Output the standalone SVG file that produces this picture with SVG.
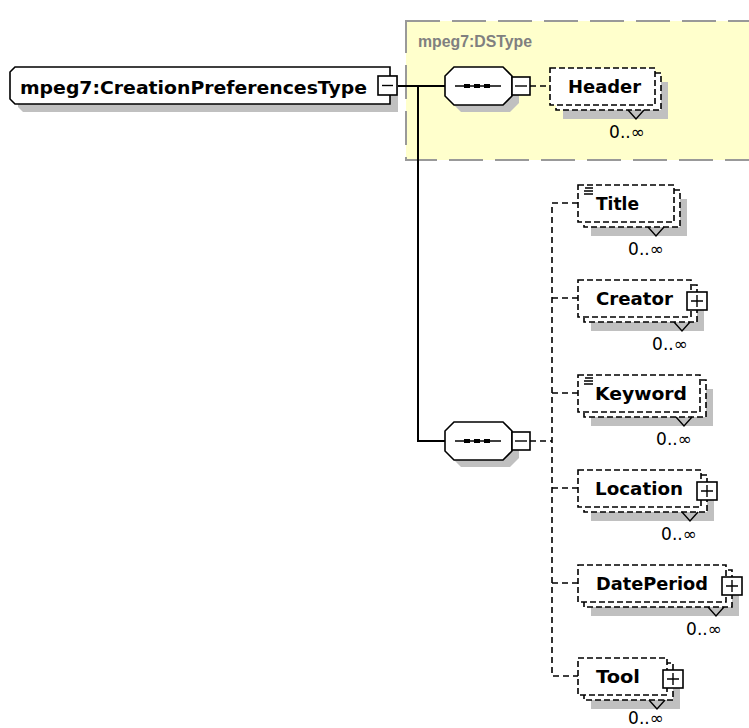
<svg xmlns="http://www.w3.org/2000/svg" width="749" height="728" viewBox="0 0 749 728">
<style>
.shadow{fill:#c0c0c0}
.solid{fill:#fff;stroke:#000;stroke-width:1.6}
.dash{fill:#fff;stroke:#000;stroke-width:1.6;stroke-dasharray:6 3}
.line{fill:none;stroke:#000;stroke-width:2}
.thin{fill:none;stroke:#000;stroke-width:1.4}
.dline{fill:none;stroke:#000;stroke-width:1.6;stroke-dasharray:6 4}
.lbl{font-family:"DejaVu Sans",sans-serif;font-weight:bold;font-size:18px;fill:#000}
.card{font-family:"DejaVu Sans",sans-serif;font-size:17px;fill:#000;text-anchor:middle}
.dot{fill:#000}
</style>
<rect width="749" height="728" fill="#fff"/>
<g id="group-DSType">
<rect x="406" y="21" width="360" height="139" fill="#ffffcc" stroke="#999" stroke-width="2" stroke-dasharray="34 12"/>
<text x="418" y="47" font-family="'Liberation Sans',Arial,sans-serif" font-weight="bold" font-size="16" fill="#808080" textLength="114" lengthAdjust="spacingAndGlyphs">mpeg7:DSType</text>
</g>
<g id="connectors">
<path class="line" d="M397,86 H445"/>
<path class="line" d="M418,86 V441 H445"/>
<path class="dline" d="M530,86 H550"/>
<path class="dline" d="M530,441 H552"/>
<path class="dline" d="M578,203 H552 V676 H578"/>
<path class="dline" d="M552,298 H578 M552,393 H578 M552,488 H578 M552,583 H578"/>
</g>
<g id="node-CreationPreferencesType">
<polygon class="shadow" points="23,75 398,75 398,112 23,112 18,107 18,80"/>
<polygon class="solid" points="15,67 390,67 390,104 15,104 10,99 10,72"/>
<text class="lbl" x="20" y="94" textLength="347" lengthAdjust="spacingAndGlyphs">mpeg7:CreationPreferencesType</text>
<rect class="solid" x="378" y="76" width="19" height="19"/>
<path class="thin" d="M382,85.5 H393"/>
</g>
<g id="node-sequence1">
<polygon class="shadow" points="461,74 510,74 519,83 519,103 510,112 461,112 452,103 452,84"/>
<polygon class="solid" points="454,67 503,67 512,76 512,96 503,105 454,105 445,96 445,76"/>
<path class="thin" d="M455,86 H501"/>
<rect class="dot" x="464" y="84" width="6" height="4"/>
<rect class="dot" x="474" y="84" width="6" height="4"/>
<rect class="dot" x="484" y="84" width="6" height="4"/>
<rect class="solid" x="512" y="77" width="18" height="18"/>
<path class="thin" d="M515,86 H527"/>
</g>
<g id="node-sequence2">
<polygon class="shadow" points="461,429 510,429 519,438 519,458 510,467 461,467 452,458 452,439"/>
<polygon class="solid" points="454,422 503,422 512,431 512,451 503,460 454,460 445,451 445,431"/>
<path class="thin" d="M455,441 H501"/>
<rect class="dot" x="464" y="439" width="6" height="4"/>
<rect class="dot" x="474" y="439" width="6" height="4"/>
<rect class="dot" x="484" y="439" width="6" height="4"/>
<rect class="solid" x="512" y="432" width="18" height="18"/>
<path class="thin" d="M515,441 H527"/>
</g>
<g id="node-Header">
<rect class="shadow" x="563" y="82" width="105" height="37"/>
<rect class="dash" x="556" y="73" width="105" height="37"/>
<rect class="dash" x="550" y="68" width="105" height="37"/>
<polyline class="thin" points="628,110 636,119 644,110"/>
<text class="lbl" x="568" y="93" textLength="73" lengthAdjust="spacingAndGlyphs">Header</text>
<text class="card" x="627" y="138">0..∞</text>
</g>
<g id="node-Title">
<rect class="shadow" x="591" y="199" width="96" height="37"/>
<rect class="dash" x="584" y="190" width="96" height="37"/>
<rect class="dash" x="578" y="185" width="96" height="37"/>
<polyline class="thin" points="648,227 656,236 664,227"/>
<path class="thin" d="M585,188 H593 M584,191 H593 M584,194 H593"/>
<text class="lbl" x="596" y="210" textLength="43" lengthAdjust="spacingAndGlyphs">Title</text>
<text class="card" x="646" y="255">0..∞</text>
</g>
<g id="node-Creator">
<rect class="shadow" x="591" y="294" width="113" height="37"/>
<rect class="dash" x="584" y="285" width="113" height="37"/>
<rect class="dash" x="578" y="280" width="113" height="37"/>
<polyline class="thin" points="674,322 682,331 690,322"/>
<text class="lbl" x="596" y="305" textLength="77" lengthAdjust="spacingAndGlyphs">Creator</text>
<rect class="solid" x="687" y="292" width="20" height="18"/>
<path class="thin" d="M691,301 H703 M697,295 V307"/>
<text class="card" x="670" y="350">0..∞</text>
</g>
<g id="node-Keyword">
<rect class="shadow" x="591" y="389" width="122" height="37"/>
<rect class="dash" x="584" y="380" width="122" height="37"/>
<rect class="dash" x="578" y="375" width="122" height="37"/>
<polyline class="thin" points="676,417 684,426 692,417"/>
<path class="thin" d="M585,378 H593 M584,381 H593 M584,384 H593"/>
<text class="lbl" x="595" y="400" textLength="92" lengthAdjust="spacingAndGlyphs">Keyword</text>
<text class="card" x="674" y="445">0..∞</text>
</g>
<g id="node-Location">
<rect class="shadow" x="591" y="484" width="123" height="37"/>
<rect class="dash" x="584" y="475" width="123" height="37"/>
<rect class="dash" x="578" y="470" width="123" height="37"/>
<polyline class="thin" points="682,512 690,521 698,512"/>
<text class="lbl" x="595" y="495" textLength="88" lengthAdjust="spacingAndGlyphs">Location</text>
<rect class="solid" x="697" y="482" width="20" height="18"/>
<path class="thin" d="M701,491 H713 M707,485 V497"/>
<text class="card" x="679" y="540">0..∞</text>
</g>
<g id="node-DatePeriod">
<rect class="shadow" x="591" y="579" width="148" height="37"/>
<rect class="dash" x="584" y="570" width="148" height="37"/>
<rect class="dash" x="578" y="565" width="148" height="37"/>
<polyline class="thin" points="708,607 716,616 724,607"/>
<text class="lbl" x="596" y="590" textLength="112" lengthAdjust="spacingAndGlyphs">DatePeriod</text>
<rect class="solid" x="722" y="577" width="20" height="18"/>
<path class="thin" d="M726,586 H738 M732,580 V592"/>
<text class="card" x="704" y="635">0..∞</text>
</g>
<g id="node-Tool">
<rect class="shadow" x="591" y="672" width="89" height="37"/>
<rect class="dash" x="584" y="663" width="89" height="37"/>
<rect class="dash" x="578" y="658" width="89" height="37"/>
<polyline class="thin" points="649,700 657,709 665,700"/>
<text class="lbl" x="596" y="683" textLength="44" lengthAdjust="spacingAndGlyphs">Tool</text>
<rect class="solid" x="663" y="670" width="20" height="18"/>
<path class="thin" d="M667,679 H679 M673,673 V685"/>
<text class="card" x="646" y="724" font-size="15">0..∞</text>
</g>
</svg>
